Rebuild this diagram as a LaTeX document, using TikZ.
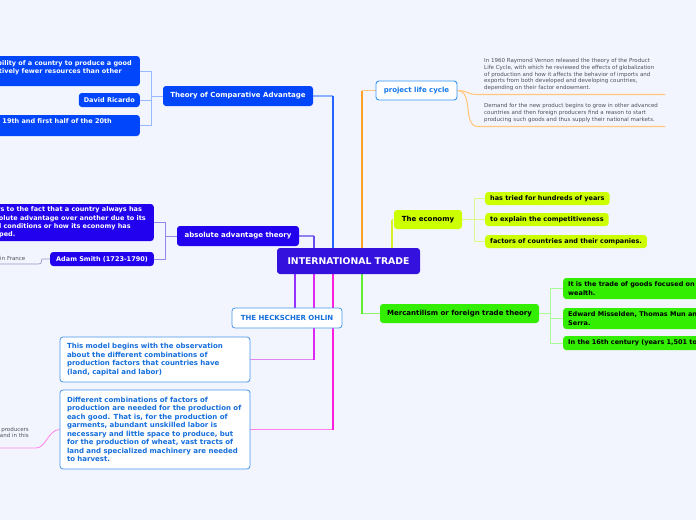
\documentclass[tikz,border=0pt]{standalone}
\usepackage{fontspec}
\setmainfont{DejaVu Sans}
\usetikzlibrary{backgrounds}
\definecolor{bg}{RGB}{243,245,254}
\definecolor{cent}{RGB}{52,17,220}
\definecolor{tcablue}{RGB}{2,70,252}
\definecolor{absblue}{RGB}{34,2,238}
\definecolor{hoborder}{RGB}{70,150,235}
\definecolor{hotext}{RGB}{20,110,220}
\definecolor{plcborder}{RGB}{50,150,250}
\definecolor{plctext}{RGB}{20,120,235}
\definecolor{econ}{RGB}{204,255,0}
\definecolor{merc}{RGB}{51,238,0}
\definecolor{tcaline}{RGB}{35,100,255}
\definecolor{tcahz}{RGB}{140,175,255}
\definecolor{tcabr}{RGB}{150,185,255}
\definecolor{absline}{RGB}{105,75,240}
\definecolor{abshz}{RGB}{145,130,240}
\definecolor{absbr}{RGB}{150,135,240}
\definecolor{orline}{RGB}{255,160,40}
\definecolor{orhz}{RGB}{255,195,130}
\definecolor{plcline}{RGB}{255,200,125}
\definecolor{econline}{RGB}{215,238,40}
\definecolor{econhz}{RGB}{225,245,110}
\definecolor{econbr}{RGB}{220,250,140}
\definecolor{holine}{RGB}{150,50,255}
\definecolor{modelline}{RGB}{220,40,240}
\definecolor{modelhz}{RGB}{225,130,240}
\definecolor{diffline}{RGB}{255,30,220}
\definecolor{diffhz}{RGB}{255,130,235}
\definecolor{mercline}{RGB}{95,238,45}
\definecolor{merchz}{RGB}{140,240,110}
\definecolor{mercbr}{RGB}{170,250,150}
\definecolor{grtext}{RGB}{80,80,90}
\definecolor{frline}{RGB}{150,150,200}
\definecolor{prline}{RGB}{255,130,235}
\tikzset{
  box/.style={rounded corners=3pt, inner sep=0pt, align=left},
  bf/.style={font=\fontsize{6.5}{8.2}\selectfont\bfseries},
  topic/.style={box, align=center, font=\fontsize{7}{8.4}\selectfont\bfseries},
  dark/.style={box, bf, text=white},
  hobox/.style={box, draw=hoborder, line width=0.8pt, fill=white, text=hotext},
  conn/.style={line width=1.5pt},
  hz/.style={line width=1.2pt},
  br/.style={line width=0.9pt},
  small/.style={inner sep=0pt, text=grtext, font=\fontsize{5.5}{6.75}\selectfont},
}
\begin{document}
\begin{tikzpicture}[x=1pt,y=-1pt]
\useasboundingbox (0,0) rectangle (696,520);
\clip (0,0) rectangle (696,520);

% central
\node[box, fill=cent, text=white, minimum width=143pt, minimum height=26pt,
  font=\fontsize{9.3}{10}\selectfont\bfseries, align=center] (c) at (348.5,261) {INTERNATIONAL TRADE};

% theory of comparative advantage
\node[topic, fill=tcablue, text=white, minimum width=150pt, minimum height=20pt] (tca) at (238,96) {Theory of Comparative Advantage};
\node[dark, fill=tcablue, anchor=east, inner xsep=8pt, minimum height=30pt] (tca1) at (140,71)
  {It is the ability of a country to produce a good\\using relatively fewer resources than other\\countries.};
\node[dark, fill=tcablue, anchor=east, inner xsep=5pt, minimum height=14pt] (tca2) at (140,100) {David Ricardo};
\node[dark, fill=tcablue, anchor=east, inner xsep=8pt, minimum height=21pt] (tca3) at (140,125.5)
  {During the 18th, 19th and first half of the 20th\hspace*{20pt}\\century.};

% absolute advantage
\node[topic, fill=absblue, text=white, minimum width=122pt, minimum height=20pt] (abs) at (238,236) {absolute advantage theory};
\node[dark, fill=absblue, anchor=east, inner xsep=8pt, minimum height=37pt] (abs1) at (154,222.5)
  {It refers to the fact that a country always has\\an absolute advantage over another due to its\\natural conditions or how its economy has\\developed.};
\node[dark, fill=absblue, anchor=east, inner xsep=6pt, minimum height=14pt] (adam) at (154,259) {Adam Smith (1723-1790)};
\node[small, anchor=east] (fr) at (25.5,258) {He lived in France};
\coordinate (fr0) at (0,264);

% Heckscher Ohlin
\node[hobox, topic, text=hotext, minimum width=110pt, minimum height=20pt] (ho) at (287,318) {THE HECKSCHER OHLIN};
\node[hobox, font=\fontsize{7}{8.5}\selectfont\bfseries, text width=176pt, minimum height=45pt, inner xsep=7pt] (model) at (155,359.5)
  {This model begins with the observation\\about the different combinations of\\production factors that countries have\\(land, capital and labor)};
\node[hobox, font=\fontsize{7}{8.45}\selectfont\bfseries, text width=176pt, minimum height=79pt, inner xsep=7pt] (diff) at (155,429.5)
  {Different combinations of factors of\\production are needed for the production of\\each good. That is, for the production of\\garments, abundant unskilled labor is\\necessary and little space to produce, but\\for the production of wheat, vast tracts of\\land and specialized machinery are needed\\to harvest.};
\node[small, anchor=east, align=right] (prod) at (29,433) {foreign producers\\country and in this};
\coordinate (pr0) at (0,448);

% project life cycle
\node[topic, draw=plcborder, line width=0.9pt, fill=white, text=plctext, minimum width=81pt, minimum height=19pt] (plc) at (416.5,90.5) {project life cycle};
\node[small, anchor=west, align=left] (plc1) at (484,74.5)
  {In 1960 Raymond Vernon released the theory of the Product\\Life Cycle, with which he reviewed the effects of globalization\\of production and how it affects the behavior of imports and\\exports from both developed and developing countries,\\depending on their factor endowment.};
\node[small, anchor=west, align=left] (plc2) at (484,113)
  {Demand for the new product begins to grow in other advanced\\countries and then foreign producers find a reason to start\\producing such goods and thus supply their national markets.};
\coordinate (u1a) at (478,94.5); \coordinate (u1b) at (665,94.5);
\coordinate (u2a) at (478,126.5); \coordinate (u2b) at (665,126.5);

% economy
\node[topic, fill=econ, text=black, minimum width=68pt, minimum height=19pt] (eco) at (428,219.5) {The economy};
\node[box, bf, fill=econ, text=black, anchor=west, inner xsep=5pt, minimum height=13pt] (e1) at (485,198.5) {has tried for hundreds of years};
\node[box, bf, fill=econ, text=black, anchor=west, inner xsep=5pt, minimum height=13pt] (e2) at (485,219.5) {to explain the competitiveness};
\node[box, bf, fill=econ, text=black, anchor=west, inner xsep=5pt, minimum height=13pt] (e3) at (485,241.5) {factors of countries and their companies.};

% mercantilism
\node[topic, fill=merc, text=black, minimum width=159pt, minimum height=19pt] (mer) at (459.5,313.5) {Mercantilism or foreign trade theory};
\node[box, bf, fill=merc, text=black, anchor=west, inner xsep=5pt, minimum height=21pt] (m1) at (563,288.5) {It is the trade of goods focused on accumulating\\wealth.};
\node[box, bf, fill=merc, text=black, anchor=west, inner xsep=5pt, minimum height=21pt] (m2) at (563,318.5) {Edward Misselden, Thomas Mun and Antonio\\Serra.};
\node[box, bf, fill=merc, text=black, anchor=west, inner xsep=5pt, minimum height=14pt] (m3) at (563,343) {In the 16th century (years 1,501 to 1,600)};

\begin{scope}[on background layer]
\fill[bg] (0,0) rectangle (696,520);
% ---- connectors from central
\path (c.north west) ++(56,0) coordinate (k1);
\draw[hz, tcahz] (k1 |- tca.east) -- (tca.east);
\draw[conn, tcaline] (k1) -- (k1 |- tca.east);
\path (c.north west) ++(37,0) coordinate (k2);
\draw[hz, abshz] (k2 |- abs.east) -- (abs.east);
\draw[conn, absline] (k2) -- (k2 |- abs.east);
\path (c.north west) ++(85,0) coordinate (k3);
\draw[hz, orhz] (k3 |- plc.west) -- (plc.west);
\draw[conn, orline] (k3) -- (k3 |- plc.west);
\path (c.north west) ++(115,0) coordinate (k4);
\draw[hz, econhz] (k4 |- eco.west) -- (eco.west);
\draw[conn, econline] (k4) -- (k4 |- eco.west);
\path (c.south west) ++(18,0) coordinate (k5);
\draw[conn, holine] (k5) -- (k5 |- ho.north);
\path (c.south west) ++(37,0) coordinate (k6);
\draw[hz, modelhz] (k6 |- model.east) -- (model.east);
\draw[conn, modelline] (k6) -- (k6 |- model.east);
\path (c.south west) ++(56,0) coordinate (k7);
\draw[hz, diffhz] (k7 |- diff.east) -- (diff.east);
\draw[conn, diffline] (k7) -- (k7 |- diff.east);
\path (c.south west) ++(85,0) coordinate (k8);
\draw[hz, merchz] (k8 |- mer.west) -- (mer.west);
\draw[conn, mercline] (k8) -- (k8 |- mer.west);

% ---- brackets
\draw[br, tcabr] (tca.west) -- ++(-11,0) coordinate (tb);
\draw[br, tcabr] (tca1.east) -| (tb) |- (tca3.east);
\draw[br, tcabr] (tca2.east) -- (tca2.east -| tb);
\draw[br, absbr] (abs.west) -- ++(-11,0) coordinate (ab);
\draw[br, absbr] (abs1.east) -| (ab) |- (adam.east);
\draw[br, econbr] (eco.east) -- ++(12,0) coordinate (eb);
\draw[br, econbr] (e1.west) -| (eb) |- (e3.west);
\draw[br, econbr] (e2.west) -- (eb);
\draw[br, mercbr] (mer.east) -- ++(11,0) coordinate (mb);
\draw[br, mercbr] (m1.west) -| (mb) |- (m3.west);
\draw[br, mercbr] (m2.west) -- (m2.west -| mb);

% project life cycle curves
\draw[line width=1.1pt, plcline] (plc.east) .. controls (470,91) and (466,94.5) .. (u1a) -- (u1b);
\draw[line width=1.1pt, plcline] (plc.east) .. controls (474,91) and (462,126.5) .. (u2a) -- (u2b);

% small leaves
\draw[line width=0.7pt, frline] (adam.west) -- ++(-8,0) .. controls (41,262) and (42,264) .. (38,264) -- (fr0);
\draw[line width=0.8pt, prline] (diff.west) .. controls (48,430) and (46,448) .. (36,448) -- (pr0);
\end{scope}
\end{tikzpicture}
\end{document}
